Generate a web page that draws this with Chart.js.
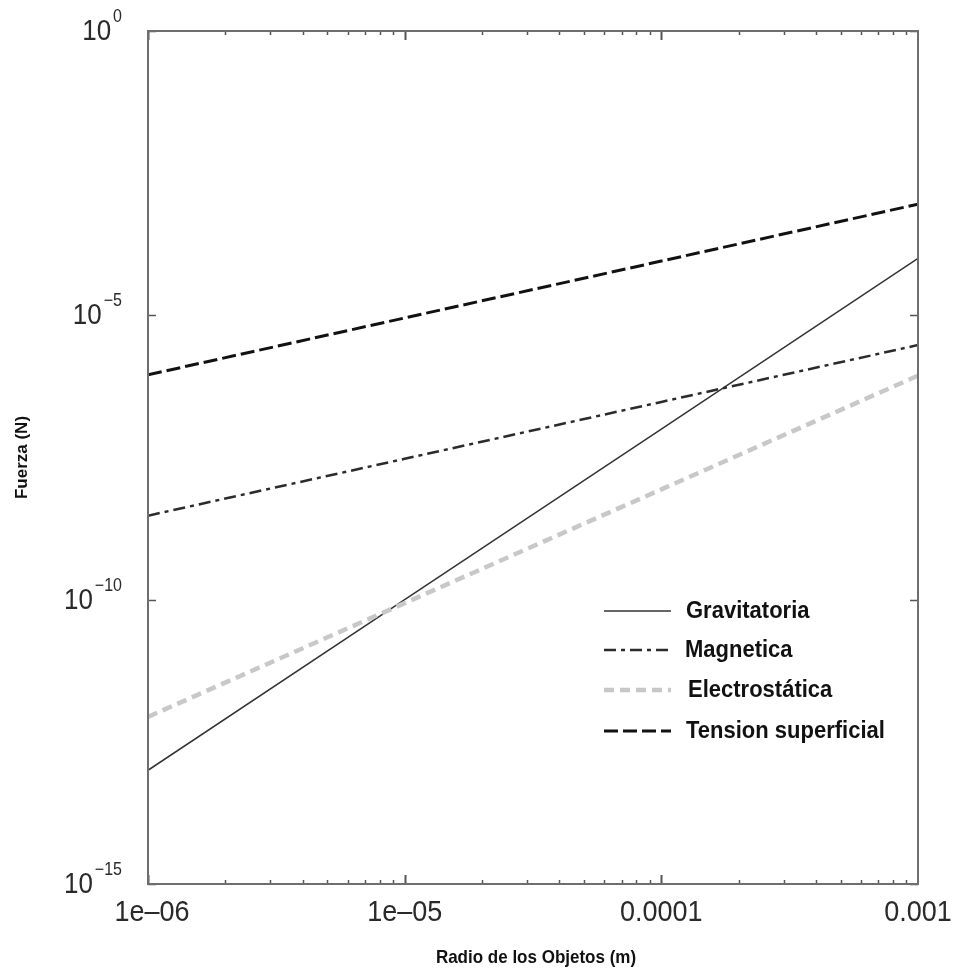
<!DOCTYPE html>
<html>
<head>
<meta charset="utf-8">
<script src="https://cdn.jsdelivr.net/npm/chart.js@4.4.1/dist/chart.umd.min.js"></script>
<style>
  html, body { margin: 0; padding: 0; background: #ffffff; }
  #wrap { width: 956px; height: 975px; }
</style>
</head>
<body>
<div id="wrap"><canvas id="c" width="956" height="975"></canvas></div>
<script>
// ---- data ----
const radios = [1e-6, 1e-5, 1e-4, 1e-3];                 // x values (m)
const gravitatoria = [1e-13, 1e-10, 1e-7, 1e-4];
const magnetica = [3.0e-9, 3.0e-8, 3.0e-7, 3.0e-6];
const electrostatica = [8.7e-13, 8.7e-11, 8.7e-9, 8.7e-7];
const tension = [9e-7, 9e-6, 9e-5, 9e-4];
const seriesNames = ['Gravitatoria', 'Magnetica', 'Electrostática', 'Tension superficial'];
const xTickValues = [1e-6, 1e-5, 1e-4, 1e-3];
const xTickLabels = ['1e\u201306', '1e\u201305', '0.0001', '0.001'];
const yTickExponents = [0, -5, -10, -15];
const xTitle = 'Radio de los Objetos (m)';
const yTitle = 'Fuerza (N)';

const toPts = arr => radios.map((r, i) => ({ x: r, y: arr[i] }));

const SY = 1.12; // vertical stretch of text as in the reference

function stretchedText(ctx, text, x, y, font, align, color, sy) {
  ctx.save();
  ctx.font = font;
  ctx.fillStyle = color;
  ctx.textAlign = align;
  ctx.textBaseline = 'middle';
  ctx.translate(x, y);
  ctx.scale(1, sy || SY);
  ctx.fillText(text, 0, 0);
  ctx.restore();
}

const decorPlugin = {
  id: 'decor',
  afterDraw(chart) {
    const ctx = chart.ctx;
    const a = chart.chartArea;
    const xs = chart.scales.x, ys = chart.scales.y;

    // ticks (inward, on all four sides)
    ctx.save();
    ctx.strokeStyle = '#555555';
    for (let d = -6; d < -3; d++) {
      for (let m = 1; m < 10; m++) {
        const v = m * Math.pow(10, d);
        const px = Math.round(xs.getPixelForValue(v)) + 0.5;
        const len = m === 1 ? 9 : 4;
        ctx.lineWidth = m === 1 ? 2 : 1.5;
        ctx.beginPath();
        ctx.moveTo(px, a.bottom); ctx.lineTo(px, a.bottom - len);
        ctx.moveTo(px, a.top); ctx.lineTo(px, a.top + len);
        ctx.stroke();
      }
    }
    yTickExponents.forEach(e => {
      const py = Math.round(ys.getPixelForValue(Math.pow(10, e))) + 0.5;
      ctx.lineWidth = 1.5;
      ctx.beginPath();
      ctx.moveTo(a.left, py); ctx.lineTo(a.left + 8, py);
      ctx.moveTo(a.right, py); ctx.lineTo(a.right - 8, py);
      ctx.stroke();
    });
    ctx.restore();

    // frame
    ctx.save();
    ctx.strokeStyle = '#6e6e6e';
    ctx.lineWidth = 2;
    ctx.strokeRect(a.left, a.top, a.right - a.left, a.bottom - a.top);
    ctx.restore();

    const fam = '"Liberation Sans", Arial, sans-serif';

    // x tick labels
    xTickValues.forEach((v, i) => {
      const px = xs.getPixelForValue(v);
      stretchedText(ctx, xTickLabels[i], px + (i === 0 ? 4 : 0), a.bottom + 29, '27px ' + fam, 'center', '#2a2a2a');
    });

    // y tick labels: 10 with superscript exponent
    yTickExponents.forEach(e => {
      const py = ys.getPixelForValue(Math.pow(10, e));
      const expText = e === 0 ? '0' : '\u2212' + String(-e);
      ctx.save();
      ctx.font = '16px ' + fam;
      const ew = ctx.measureText(expText).width;
      ctx.restore();
      const right = 122;
      stretchedText(ctx, expText, right, py - 14, '16px ' + fam, 'right', '#2a2a2a');
      stretchedText(ctx, '10', right - ew - 2, py + 1, '26px ' + fam, 'right', '#2a2a2a');
    });

    // axis titles
    stretchedText(ctx, xTitle, (a.left + a.right) / 2 + 3, 958, 'bold 17px ' + fam, 'center', '#111111');
    ctx.save();
    ctx.translate(22, (a.top + a.bottom) / 2);
    ctx.rotate(-Math.PI / 2);
    ctx.font = 'bold 17px ' + fam;
    ctx.fillStyle = '#111111';
    ctx.textAlign = 'center';
    ctx.textBaseline = 'middle';
    ctx.fillText(yTitle, 0, 0);
    ctx.restore();

    // legend inside plot, in the reference order
    const rows = [611, 650, 690, 731];
    const textX = [686, 685, 688, 686];
    seriesNames.forEach((name, i) => {
      const ds = chart.data.datasets.find(d => d.label === name);
      const y = rows[i];
      ctx.save();
      ctx.strokeStyle = ds.borderColor;
      ctx.lineWidth = ds.borderWidth;
      ctx.setLineDash(ds.borderDash || []);
      ctx.beginPath();
      ctx.moveTo(604, y); ctx.lineTo(671, y);
      ctx.stroke();
      ctx.restore();
      stretchedText(ctx, ds.label, textX[i], y, 'bold 22px ' + fam, 'left', '#111111', 1.08);
    });
  }
};

new Chart(document.getElementById('c'), {
  type: 'line',
  data: {
    datasets: [
      { label: seriesNames[2], data: toPts(electrostatica), borderColor: '#c8c8c8', borderWidth: 4.5, borderDash: [10, 6] },
      { label: seriesNames[1], data: toPts(magnetica), borderColor: '#2b2b2b', borderWidth: 2.5, borderDash: [12, 5, 4, 5] },
      { label: seriesNames[3], data: toPts(tension), borderColor: '#111111', borderWidth: 3, borderDash: [14, 5] },
      { label: seriesNames[0], data: toPts(gravitatoria), borderColor: '#333333', borderWidth: 1.5 }
    ].map(d => Object.assign(d, { pointRadius: 0, fill: false, tension: 0, borderCapStyle: 'butt' }))
  },
  options: {
    responsive: false,
    animation: false,
    layout: { padding: { left: 148, top: 31, right: 38, bottom: 91 } },
    plugins: { legend: { display: false }, tooltip: { enabled: false } },
    scales: {
      x: { type: 'logarithmic', min: 1e-6, max: 1e-3, display: false },
      y: { type: 'logarithmic', min: 1e-15, max: 1, display: false }
    }
  },
  plugins: [decorPlugin]
});
</script>
</body>
</html>
